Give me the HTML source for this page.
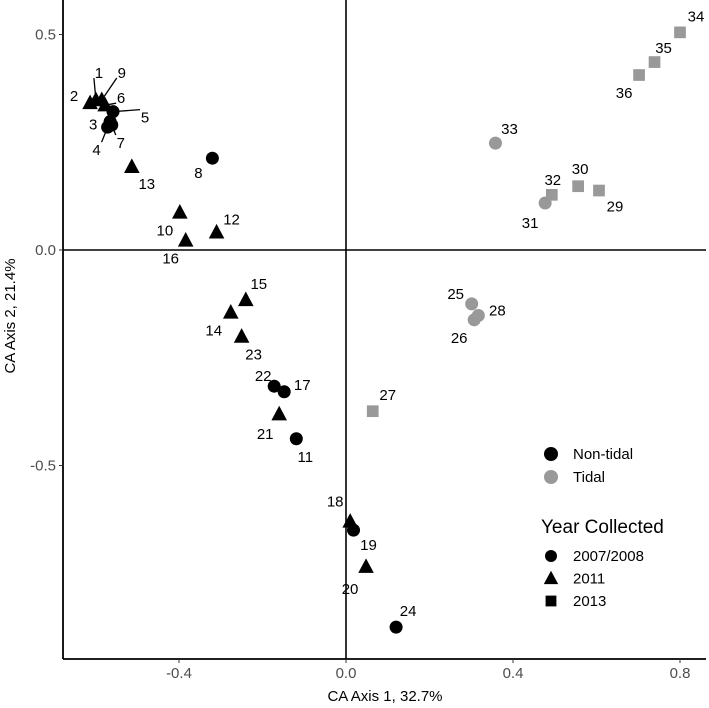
<!DOCTYPE html>
<html><head><meta charset="utf-8">
<style>
html,body{margin:0;padding:0;background:#fff;}
svg{display:block;font-family:"Liberation Sans",Arial,sans-serif;}
</style></head>
<body>
<svg id="chart" width="709" height="708" viewBox="0 0 709 708" xmlns="http://www.w3.org/2000/svg"></svg>
<script>
const ids = [1,2,3,4,5,6,7,8,9,10,11,12,13,14,15,16,17,18,19,20,21,22,23,24,25,26,27,28,29,30,31,32,33,34,35,36];
const xVals = [-0.599,-0.613,-0.565,-0.571,-0.558,-0.577,-0.561,-0.320,-0.585,-0.398,-0.119,-0.310,-0.513,-0.276,-0.240,-0.384,-0.148,0.010,0.018,0.048,-0.160,-0.172,-0.250,0.120,0.301,0.307,0.064,0.317,0.606,0.556,0.477,0.493,0.358,0.800,0.739,0.702];
const yVals = [0.348,0.341,0.298,0.285,0.321,0.336,0.290,0.213,0.348,0.087,-0.438,0.041,0.193,-0.145,-0.116,0.022,-0.329,-0.630,-0.650,-0.735,-0.381,-0.316,-0.201,-0.875,-0.125,-0.162,-0.374,-0.152,0.138,0.148,0.109,0.128,0.248,0.505,0.436,0.406];
const tidal = ["N","N","N","N","N","N","N","N","N","N","N","N","N","N","N","N","N","N","N","N","N","N","N","N","T","T","T","T","T","T","T","T","T","T","T","T"];
const years = ["2011","2011","2007/2008","2007/2008","2007/2008","2011","2007/2008","2007/2008","2011","2011","2007/2008","2011","2011","2011","2011","2011","2007/2008","2011","2007/2008","2011","2011","2007/2008","2011","2007/2008","2007/2008","2007/2008","2013","2007/2008","2013","2013","2007/2008","2013","2007/2008","2013","2013","2013"];
const xTicks = [-0.4,0.0,0.4,0.8];
const yTicks = [0.5,0.0,-0.5];
const xTickLabels = ["-0.4","0.0","0.4","0.8"];
const yTickLabels = ["0.5","0.0","-0.5"];
// label offsets (px, relative to point) for repelled text labels
const labelDx = [3,-16,-17,-11,32,16,9,-14,20,-15,9,15,15,-17,13,-15,18,-15,15,-16,-14,-11,12,12,-16,-15,15,19,16,2,-15,1,14,16,9,-15];
const labelDy = [-27,-7,3,23,6,-7,18,15,-27,18,18,-13,17,18,-16,18,-7,-20,15,22,20,-10,18,-16,-10,18,-16,-5,16,-17,20,-15,-14,-16,-14,18];
const leader = [1,0,0,1,1,1,1,0,1,0,0,0,0,0,0,0,0,0,0,0,0,0,0,0,0,0,0,0,0,0,0,0,0,0,0,0];

const NS = "http://www.w3.org/2000/svg";
const svg = document.getElementById('chart');
const L = 63, R = 706, T = 0, B = 659;
function sx(v){ return 346 + v * 417.5; }
function sy(v){ return 250 - v * 431; }
function mk(tag, attrs, parent){
  const e = document.createElementNS(NS, tag);
  for (const k in attrs) e.setAttribute(k, attrs[k]);
  (parent || svg).appendChild(e);
  return e;
}
function shape(kind, cx, cy, s, fill, parent){
  if (kind === "2007/2008") return mk('circle',{cx:cx,cy:cy,r:s*0.5,fill:fill},parent);
  if (kind === "2011"){
    const h = s*1.05, w = s*1.2;
    return mk('polygon',{points:`${cx},${cy-h*0.62} ${cx-w/2},${cy+h*0.45} ${cx+w/2},${cy+h*0.45}`,fill:fill},parent);
  }
  return mk('rect',{x:cx-s*0.45,y:cy-s*0.45,width:s*0.9,height:s*0.9,fill:fill},parent);
}

let e = mk('line',{x1:L,x2:R,y1:sy(0),y2:sy(0),stroke:'#000','stroke-width':1.6});
 
e = mk('line',{x1:sx(0),x2:sx(0),y1:T,y2:B,stroke:'#000','stroke-width':1.6});
 

e = mk('line',{x1:L,x2:L,y1:T,y2:B,stroke:'#000','stroke-width':1.8});
 
e = mk('line',{x1:L,x2:R,y1:B,y2:B,stroke:'#000','stroke-width':1.8});
 

xTicks.forEach((v,i)=>{
  const t = mk('line',{x1:sx(v),x2:sx(v),y1:B,y2:B+4,stroke:'#333','stroke-width':1});
   
  const lb = mk('text',{x:sx(v),y:B+19,'text-anchor':'middle','font-size':15,fill:'#4d4d4d'});
  lb.textContent = xTickLabels[i];
   
});
yTicks.forEach((v,i)=>{
  const t = mk('line',{x1:L-4,x2:L,y1:sy(v),y2:sy(v),stroke:'#333','stroke-width':1});
   
  const lb = mk('text',{x:L-7,y:sy(v)+5,'text-anchor':'end','font-size':15,fill:'#4d4d4d'});
  lb.textContent = yTickLabels[i];
   
});
e = mk('text',{x:385,y:701,'text-anchor':'middle','font-size':15,fill:'#000'});
e.textContent = 'CA Axis 1, 32.7%';
 
e = mk('text',{x:0,y:0,'text-anchor':'middle','font-size':15,fill:'#000',transform:'translate(15,316) rotate(-90)'});
e.textContent = 'CA Axis 2, 21.4%';
 

const gLead = mk('g',{});
 
const gPts = mk('g',{});
 
const gLab = mk('g',{});
 
ids.forEach((id,i)=>{
  const cx = sx(xVals[i]), cy = sy(yVals[i]);
  const lx = cx + labelDx[i], ly = cy + labelDy[i];
  if (leader[i]){
    const ln = mk('line',{x1:cx,y1:cy,x2:lx - Math.sign(labelDx[i])*5,y2:ly + (labelDy[i]<0?5:-8),stroke:'#000','stroke-width':1.3},gLead);
     
  }
  const fill = tidal[i] === 'T' ? '#999999' : '#000000';
  const p = shape(years[i], cx, cy, 13, fill, gPts);
  
  
  const t = mk('text',{x:lx,y:ly+5,'text-anchor':'middle','font-size':15,fill:'#000'},gLab);
  t.textContent = String(id);
  
  
});

const lg = mk('g',{});
 
const tidalNames = ['Non-tidal','Tidal'], tidalColors = ['#000','#999'];
tidalNames.forEach((n,i)=>{
  const y = 454 + i*23;
  const c = mk('circle',{cx:551,cy:y,r:7,fill:tidalColors[i]},lg);
   
  const t = mk('text',{x:573,y:y+5,'font-size':15,fill:'#000'},lg);
  t.textContent = n;
   
});
e = mk('text',{x:541,y:533,'font-size':19,fill:'#000'},lg);
e.textContent = 'Year Collected';
 
const yearNames = ['2007/2008','2011','2013'];
yearNames.forEach((n,i)=>{
  const y = 556 + i*22.5;
  const s = shape(n, 551, y, 12, '#000', lg);
   
  const t = mk('text',{x:573,y:y+5,'font-size':15,fill:'#000'},lg);
  t.textContent = n;
   
});
</script>
</body></html>
